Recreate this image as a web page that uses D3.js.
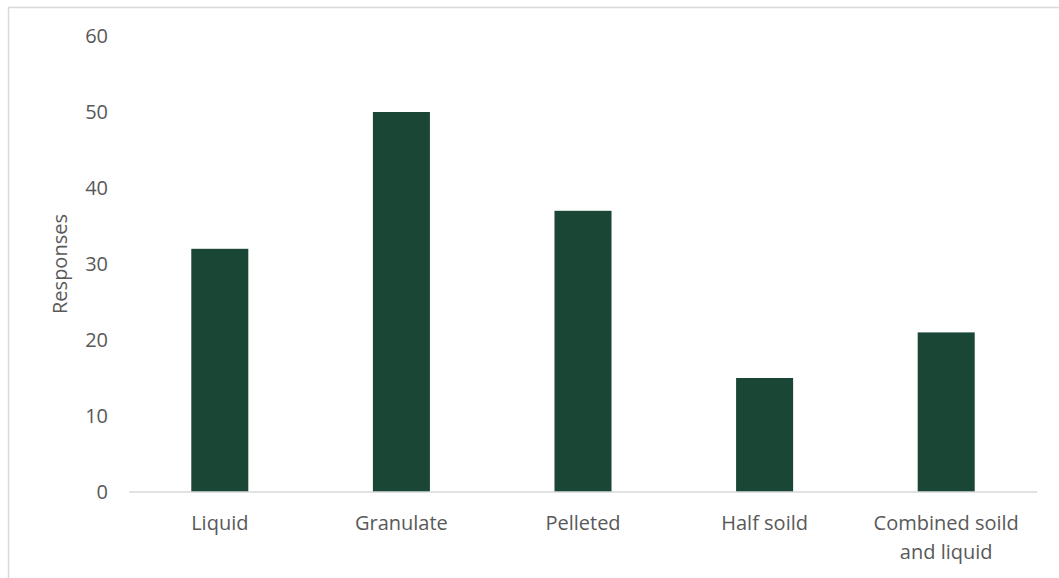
<!DOCTYPE html>
<html>
<head>
<meta charset="utf-8">
<script src="https://cdn.jsdelivr.net/npm/d3@7"></script>
<style>
  html, body { margin: 0; padding: 0; background: #fff; }
  svg { display: block; }
  text { font-family: "Open Sans", "Noto Sans", sans-serif; fill: #595959; }
</style>
</head>
<body>
<svg id="chart" width="1059" height="578"></svg>
<script>
// Response counts by fertiliser form
const categories = ["Liquid", "Granulate", "Pelleted", "Half soild", "Combined soild and liquid"];
const responses = [32, 50, 37, 15, 21];
const yTicks = [0, 10, 20, 30, 40, 50, 60];

const svg = d3.select("#chart");
const W = 1059, H = 578;
const plot = { left: 129, right: 1037, top: 36, bottom: 492 };
const FS = 20;

// chart frame
svg.append("rect")
  .attr("x", 8.5).attr("y", 7.5)
  .attr("width", W + 10).attr("height", H + 10)
  .attr("fill", "none").attr("stroke", "#d9d9d9").attr("stroke-width", 1.5);

const x = d3.scaleBand()
  .domain(categories)
  .range([plot.left, plot.right])
  .paddingInner(0.686)
  .paddingOuter(0.343);

const y = d3.scaleLinear().domain([0, 60]).range([plot.bottom, plot.top]);

// bars
svg.append("g").selectAll("rect")
  .data(categories)
  .join("rect")
  .attr("x", d => x(d))
  .attr("y", (d, i) => y(responses[i]))
  .attr("width", x.bandwidth())
  .attr("height", (d, i) => y(0) - y(responses[i]))
  .attr("fill", "#1a4735");

// baseline
svg.append("line")
  .attr("x1", plot.left).attr("x2", plot.right)
  .attr("y1", y(0)).attr("y2", y(0))
  .attr("stroke", "#d9d9d9").attr("stroke-width", 1.5);

// y axis labels
const yAxis = d3.axisLeft(y).tickValues(yTicks).tickSize(0).tickPadding(0);
const gy = svg.append("g").attr("transform", `translate(${plot.left - 21},0)`).call(yAxis);
gy.select(".domain").remove();
gy.selectAll("text")
  .attr("font-size", FS)
  .style("font-family", '"Open Sans", sans-serif')
  .attr("fill", "#595959");

// x axis labels (wrapped)
const xAxis = d3.axisBottom(x).tickSize(0).tickPadding(0).tickFormat("");
const gx = svg.append("g").attr("transform", `translate(0,${plot.bottom})`).call(xAxis);
gx.select(".domain").remove();
const wrapped = {
  "Combined soild and liquid": ["Combined soild", "and liquid"]
};
gx.selectAll(".tick").each(function(d) {
  const lines = wrapped[d] || [d];
  const t = d3.select(this).append("text")
    .attr("text-anchor", "middle")
    .attr("font-size", FS)
    .attr("fill", "#595959");
  lines.forEach((ln, k) => {
    t.append("tspan").attr("x", 0).attr("y", 38 + k * 29).text(ln);
  });
});

// y axis title
svg.append("text")
  .attr("transform", `translate(67,${(plot.top + plot.bottom) / 2}) rotate(-90)`)
  .attr("text-anchor", "middle")
  .attr("font-size", FS)
  .attr("fill", "#595959")
  .text("Responses");
</script>
</body>
</html>
